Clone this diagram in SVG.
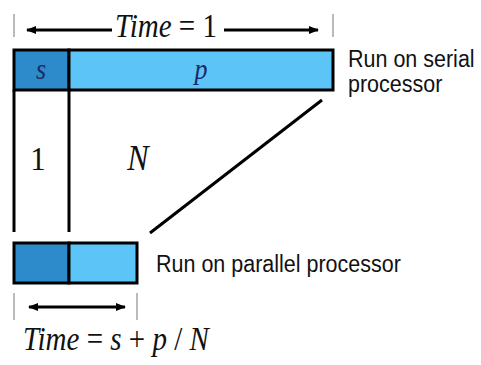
<svg xmlns="http://www.w3.org/2000/svg" width="481" height="365" viewBox="0 0 481 365">
<defs>
<style>
.bar{stroke:#000;stroke-width:3}
.dark{fill:#2E8BCB}
.light{fill:#5CC4F6}
.tick{stroke:#777;stroke-width:1}
.line{stroke:#000;stroke-width:3;fill:none}
.math{font-family:"Liberation Serif","Times New Roman",serif;fill:#111}
.it{font-style:italic}
.lbl{font-family:"Liberation Sans",Arial,sans-serif;fill:#111;font-size:21.5px}
.var{font-family:"Liberation Serif","Times New Roman",serif;font-style:italic;fill:#1A2A66;font-size:26px}
</style>
<marker id="ah" viewBox="0 0 10 8" refX="9" refY="4" markerWidth="10" markerHeight="8" markerUnits="userSpaceOnUse" orient="auto-start-reverse">
<path d="M0,0 L10,4 L0,8 Z" fill="#000"/>
</marker>
</defs>
<g id="serial-bar">
<rect class="bar dark" x="14" y="50" width="55" height="40"/>
<rect class="bar light" x="69" y="50" width="264" height="40"/>
<text class="var" transform="translate(41,79) scale(1,1.12)" text-anchor="middle">s</text>
<text class="var" transform="translate(201,79) scale(1,1.12)" text-anchor="middle">p</text>
</g>
<g id="parallel-bar">
<rect class="bar dark" x="14" y="243" width="55" height="40"/>
<rect class="bar light" x="69" y="243" width="68" height="40"/>
</g>
<g id="serial-label">
<text class="lbl" transform="translate(348,67) scale(1,1.15)">Run on serial</text>
<text class="lbl" transform="translate(348,92) scale(1,1.15)">processor</text>
</g>
<g id="parallel-label">
<text class="lbl" transform="translate(156,272) scale(1,1.15)">Run on parallel processor</text>
</g>
<g id="top-time">
<line class="tick" x1="14" y1="14" x2="14" y2="37"/>
<line class="tick" x1="333" y1="14" x2="333" y2="37"/>
<text class="math" transform="translate(166,37) scale(1,1.15)" font-size="29" text-anchor="middle"><tspan class="it">Time</tspan> = 1</text>
</g>
<g id="bottom-time">
<line class="tick" x1="14" y1="293" x2="14" y2="320"/>
<line class="tick" x1="137" y1="293" x2="137" y2="320"/>
<text class="math" transform="translate(23,350) scale(1,1.15)" font-size="29"><tspan class="it">Time</tspan> = <tspan class="it">s</tspan> + <tspan class="it">p</tspan> / <tspan class="it">N</tspan></text>
</g>
<g id="ratio-labels">
<text class="math" transform="translate(38,170) scale(1,1.1)" font-size="31" text-anchor="middle">1</text>
<text class="math it" transform="translate(138,170) scale(1,1.1)" font-size="32" text-anchor="middle">N</text>
</g>
<g id="connectors">
<line class="line" x1="112" y1="30" x2="27" y2="30" marker-end="url(#ah)"/>
<line class="line" x1="224" y1="30" x2="318" y2="30" marker-end="url(#ah)"/>
<line class="line" x1="29" y1="307" x2="125" y2="307" stroke-width="2.5" marker-start="url(#ah)" marker-end="url(#ah)"/>
<line class="line" x1="14" y1="90" x2="14" y2="232"/>
<line class="line" x1="69" y1="90" x2="69" y2="232"/>
<line class="line" x1="322" y1="100" x2="150" y2="233" stroke-width="2"/>
</g>
</svg>
